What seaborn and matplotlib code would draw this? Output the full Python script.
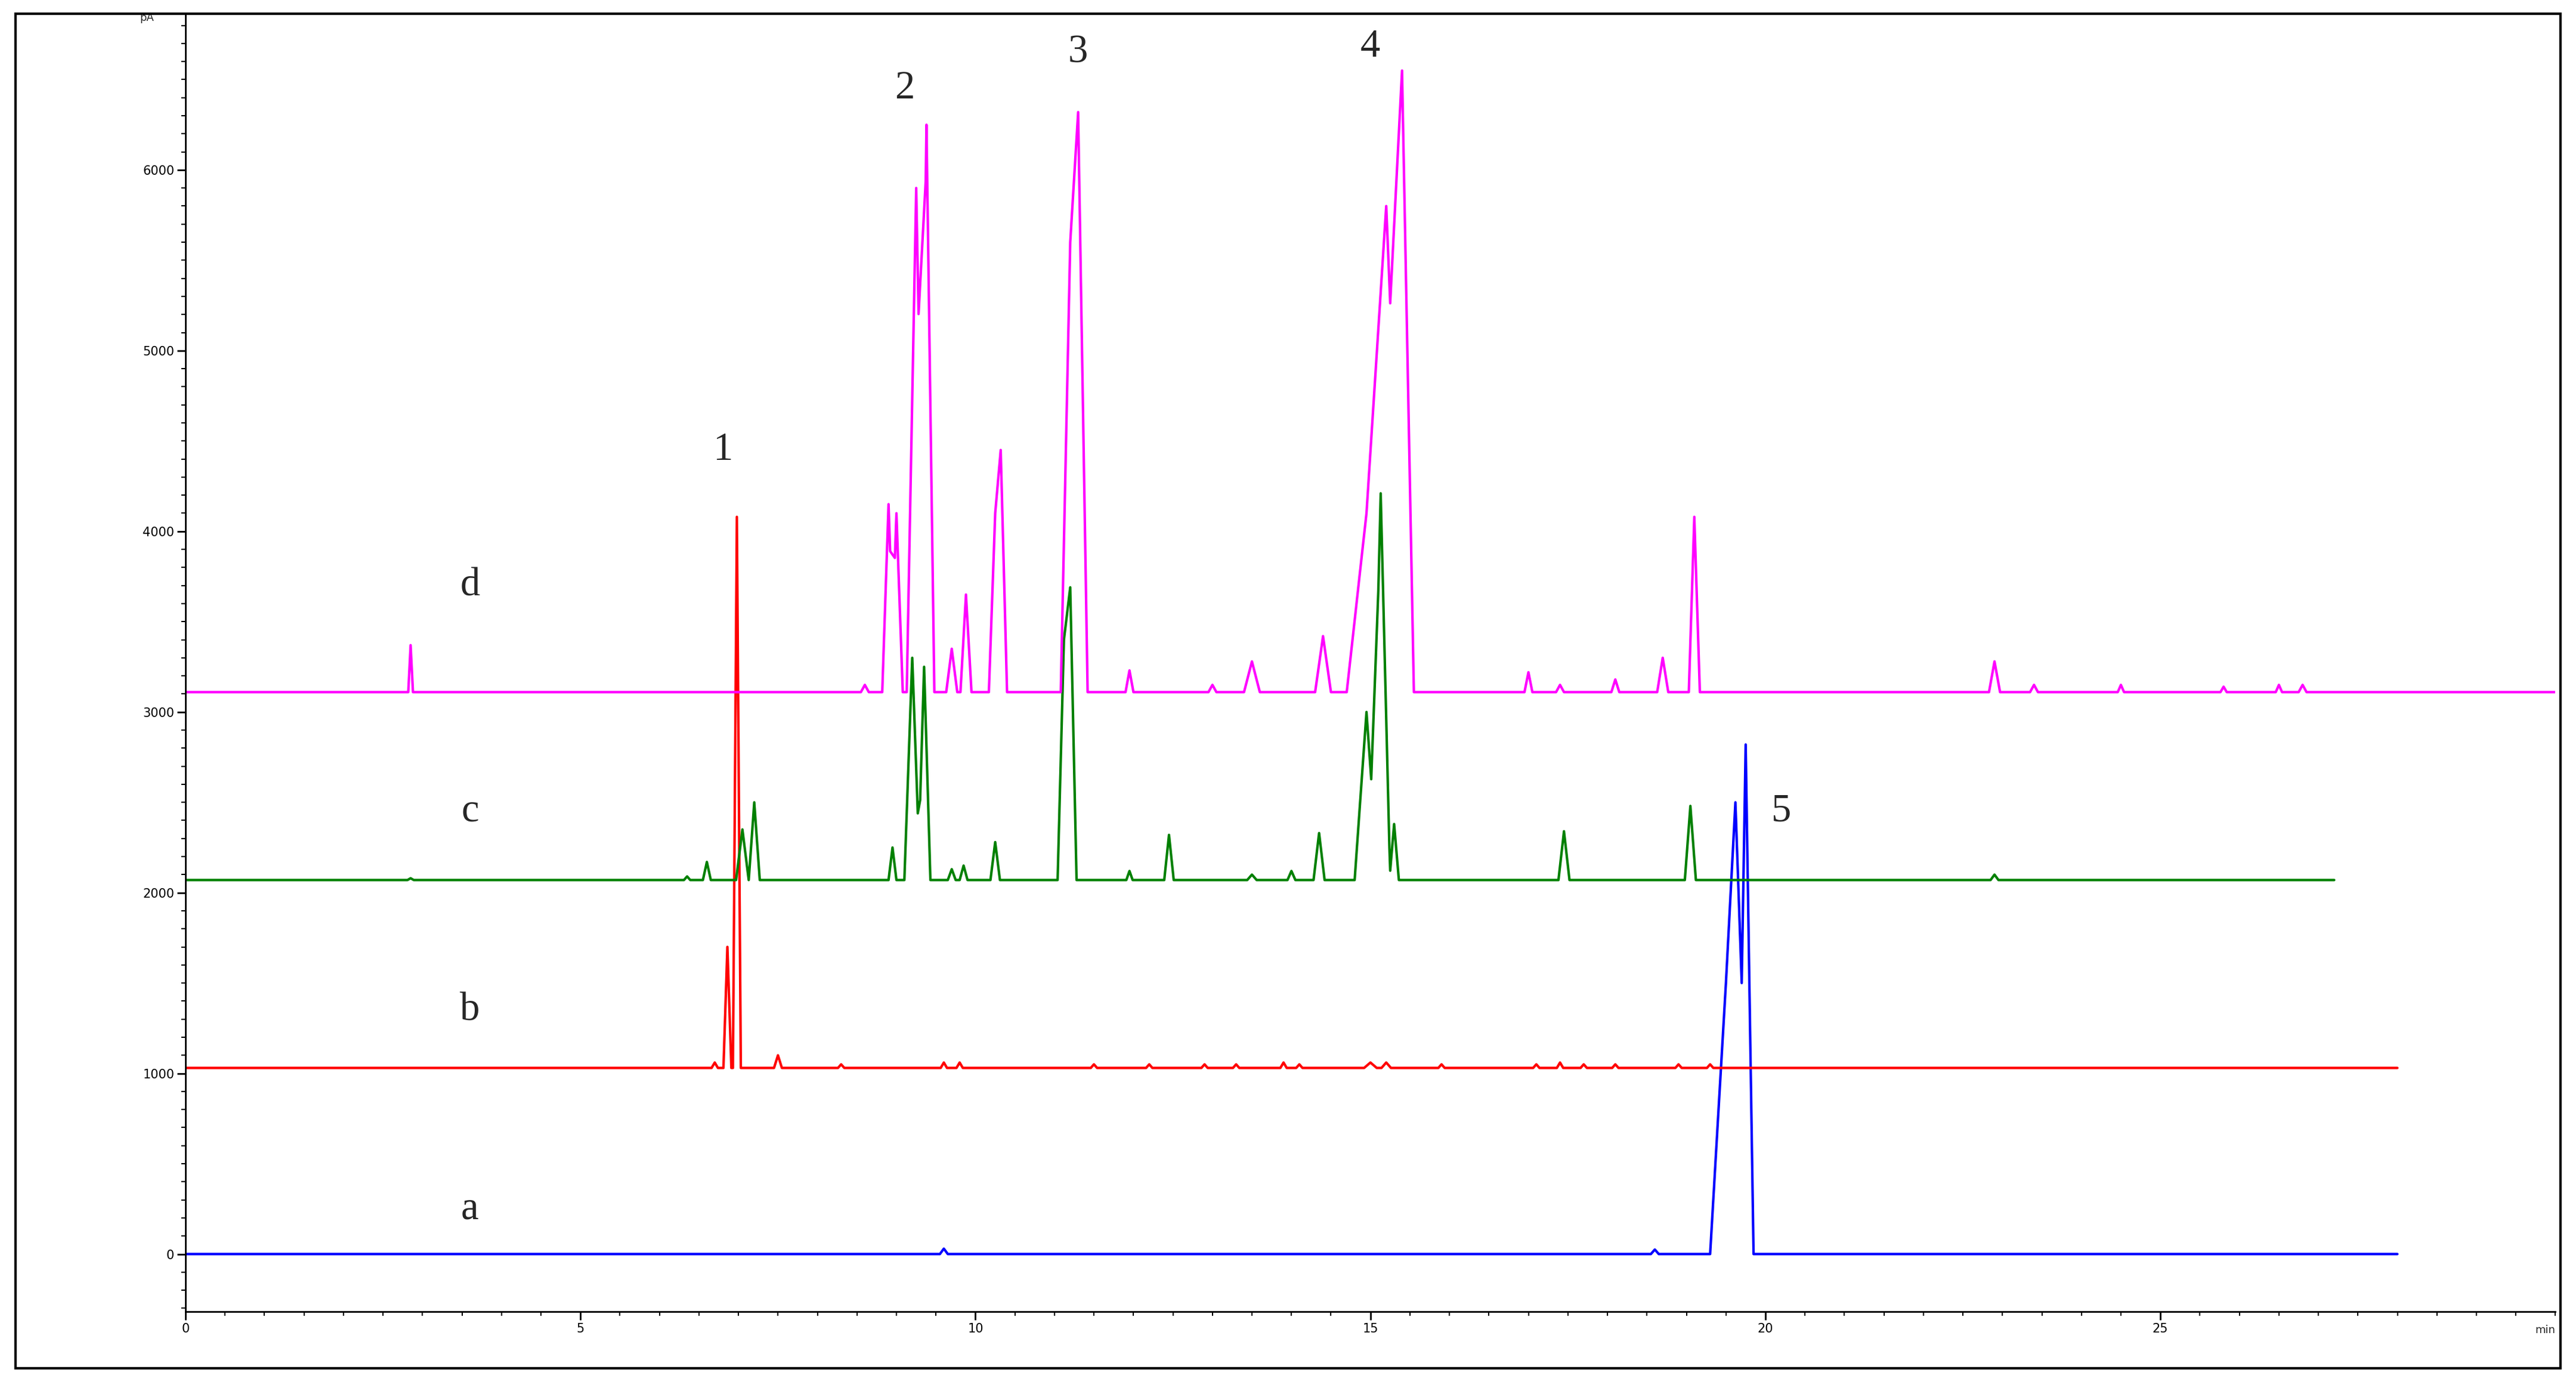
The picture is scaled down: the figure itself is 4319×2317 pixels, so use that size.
import matplotlib
matplotlib.use("Agg")
import matplotlib.pyplot as plt
import seaborn as sns
import pandas as pd
from matplotlib.patches import Rectangle
from matplotlib.ticker import MultipleLocator

# peak tables: retention time (min), apex value (pA), half base width (min)
a_base, a_end = 0, 28.0
a_t = [9.6, 18.6, 19.5, 19.62, 19.75]
a_h = [30, 25, 1500, 2500, 2820]
a_w = [0.05, 0.05, 0.2, 0.2, 0.1]

b_base, b_end = 1030, 28.0
b_t = [6.7, 6.86, 6.98, 7.5, 8.3, 9.6, 9.8, 11.5, 12.2, 12.9, 13.3, 13.9, 14.1, 15.0, 15.2, 15.9, 17.1, 17.4, 17.7, 18.1, 18.9, 19.3]
b_h = [1060, 1700, 4080, 1100, 1050, 1060, 1060, 1050, 1050, 1050, 1050, 1060, 1050, 1060, 1060, 1050, 1050, 1060, 1050, 1050, 1050, 1050]
b_w = [0.04, 0.05, 0.05, 0.05, 0.04, 0.04, 0.04, 0.04, 0.04, 0.04, 0.04, 0.04, 0.04, 0.08, 0.06, 0.04, 0.04, 0.04, 0.04, 0.04, 0.04, 0.04]

c_base, c_end = 2070, 27.2
c_t = [2.85, 6.35, 6.6, 7.05, 7.2, 8.95, 9.2, 9.35, 9.7, 9.85, 10.25, 11.12, 11.2, 11.95, 12.45, 13.5, 14.0, 14.35, 14.95, 15.13, 15.3, 17.45, 19.05, 22.9]
c_h = [2080, 2090, 2170, 2350, 2500, 2250, 3300, 3250, 2130, 2150, 2280, 3400, 3690, 2120, 2320, 2100, 2120, 2330, 3000, 4210, 2380, 2340, 2480, 2100]
c_w = [0.04, 0.04, 0.05, 0.08, 0.07, 0.05, 0.1, 0.08, 0.05, 0.05, 0.06, 0.08, 0.08, 0.04, 0.06, 0.06, 0.05, 0.07, 0.15, 0.12, 0.06, 0.07, 0.07, 0.05]

d_base, d_end = 3110, 30.0
d_t = [2.85, 8.6, 8.9, 9.0, 9.25, 9.38, 9.7, 9.88, 10.25, 10.32, 11.2, 11.3, 11.95, 13.0, 13.5, 14.4, 14.95, 15.2, 15.4, 17.0, 17.4, 18.1, 18.7, 19.1, 22.9, 23.4, 24.5, 25.8, 26.5, 26.8]
d_h = [3370, 3150, 4150, 4100, 5900, 6250, 3350, 3650, 4100, 4450, 5600, 6320, 3230, 3150, 3280, 3420, 4100, 5800, 6550, 3220, 3150, 3180, 3300, 4080, 3280, 3150, 3150, 3140, 3150, 3150]
d_w = [0.03, 0.05, 0.08, 0.08, 0.12, 0.1, 0.07, 0.07, 0.08, 0.08, 0.12, 0.12, 0.05, 0.05, 0.1, 0.1, 0.25, 0.25, 0.15, 0.05, 0.05, 0.05, 0.07, 0.07, 0.07, 0.05, 0.04, 0.04, 0.04, 0.05]

trace_names = ["a", "b", "c", "d"]
trace_colors = ["#0000ff", "#ff0000", "#008000", "#ff00ff"]
label_y = [250, 1350, 2450, 3700]
peak_nums = ["1", "2", "3", "4", "5"]
peak_pos = [(6.8, 4450), (9.1, 6450), (11.3, 6650), (15.0, 6680), (20.2, 2450)]


def expand(base, end, ts, hs, ws):
    # envelope (max) of triangular peaks, evaluated at their key points
    keys = sorted({0.0, end} | {k for t, w in zip(ts, ws) for k in (t - w, t, t + w)})
    vals = []
    for x in keys:
        v = base
        for t, h, w in zip(ts, hs, ws):
            if abs(x - t) < w:
                v = max(v, base + (h - base) * (1 - abs(x - t) / w))
        vals.append(v)
    return pd.DataFrame({"t": keys, "v": vals})


traces = [expand(a_base, a_end, a_t, a_h, a_w), expand(b_base, b_end, b_t, b_h, b_w),
          expand(c_base, c_end, c_t, c_h, c_w), expand(d_base, d_end, d_t, d_h, d_w)]

sns.set_style("white")
fig = plt.figure(figsize=(43.19, 23.17), dpi=100)
fig.patches.append(Rectangle((0.006, 0.01), 0.988, 0.98, transform=fig.transFigure,
                             fill=False, edgecolor="black", linewidth=3))
ax = fig.add_axes([0.072, 0.051, 0.92, 0.939])
for df, col in zip(traces, trace_colors):
    sns.lineplot(data=df, x="t", y="v", color=col, linewidth=3, ax=ax, sort=False, estimator=None)

ax.set_xlim(0, 30)
ax.set_ylim(-318, 6864)
ax.set_xlabel("")
ax.set_ylabel("")
for s in ["top", "right"]:
    ax.spines[s].set_visible(False)
for s in ["left", "bottom"]:
    ax.spines[s].set_color("black")
    ax.spines[s].set_linewidth(2)
ax.xaxis.set_minor_locator(MultipleLocator(0.5))
ax.yaxis.set_minor_locator(MultipleLocator(100))
ax.set_xticks([0, 5, 10, 15, 20, 25])
ax.set_yticks(range(0, 7000, 1000))
ax.tick_params(which="both", direction="out", bottom=True, left=True, colors="black", labelsize=15)
ax.tick_params(which="major", length=10, width=2)
ax.tick_params(which="minor", length=5, width=1.5)
ax.text(-0.4, 6870, "pA", ha="right", va="top", fontsize=13)
ax.text(30.0, -390, "min", ha="right", va="top", fontsize=13)

for name, y in zip(trace_names, label_y):
    ax.text(3.6, y, name, fontsize=48, family="Liberation Serif", ha="center", va="center")
for n, (x, y) in zip(peak_nums, peak_pos):
    ax.text(x, y, n, fontsize=48, family="Liberation Serif", ha="center", va="center")

fig.savefig("out.png", dpi=100)
